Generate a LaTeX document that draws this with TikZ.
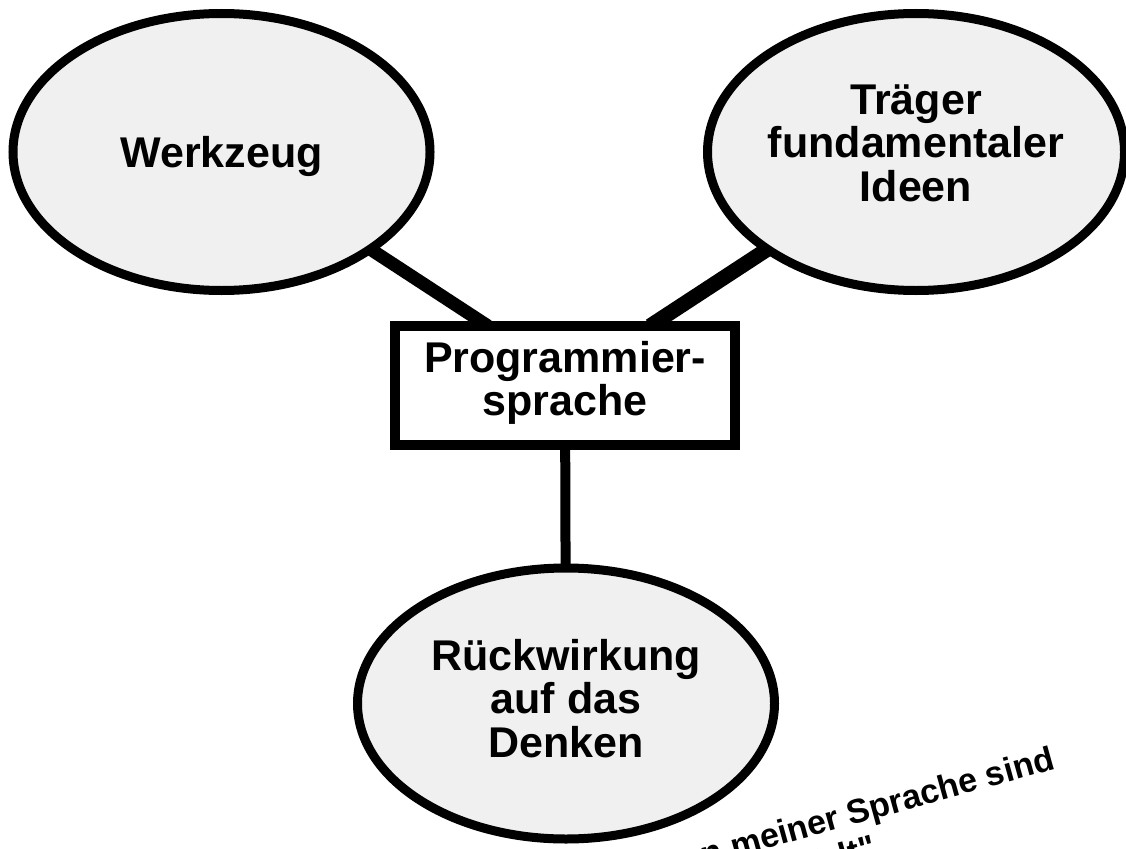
\documentclass[tikz,border=0pt]{standalone}
\usepackage{fontspec}
\setmainfont{Liberation Sans}[Ligatures=TeXOff]
\usetikzlibrary{shapes.geometric,backgrounds}
\definecolor{bubblegray}{RGB}{240,240,240}
% invisible struts that set the vertical placement of the text blocks
\newcommand{\lowstrut}[1]{\rule[-#1]{0pt}{#1}}
\newcommand{\highstrut}[1]{\rule{0pt}{#1}}
\begin{document}
\begin{tikzpicture}[x=1pt,y=-1pt,
  bubble/.style={ellipse, draw=black, line width=9pt, fill=bubblegray,
    minimum width=417pt, minimum height=277pt, inner xsep=-30pt, inner ysep=0pt,
    align=center, font=\fontsize{43}{43.5}\selectfont\bfseries},
  langbox/.style={rectangle, draw=black, line width=10pt, fill=white,
    minimum width=340pt, minimum height=119pt, inner sep=0pt, outer sep=0pt,
    align=center, font=\fontsize{43}{43}\selectfont\bfseries},
  link/.style={draw=black, line cap=butt},
  quotetext/.style={font=\fontsize{34}{36}\selectfont\bfseries, inner sep=0pt, anchor=base west}
]
\useasboundingbox (0,0) rectangle (1126,848);
\clip (0,0) rectangle (1126,848);

% concept bubbles and the central box
\node[bubble] (W) at (221.5,152) {\highstrut{41pt}Werkzeug};
\node[bubble] (T) at (916,152) {Träger\\fundamentaler\\Ideen\lowstrut{18pt}};
\node[langbox] (P) at (565,385.5) {Programmier-\\sprache\lowstrut{15pt}};
\node[bubble, minimum height=271pt] (R) at (566,703.5) {Rückwirkung\\auf das\\Denken\lowstrut{11pt}};

% white page and the thick connectors behind the shapes
\begin{scope}[on background layer]
  \fill[white] (0,0) rectangle (1126,848);
  \draw[link, line width=13pt] (W.center) -- ([xshift=-77pt]P.north);
  \draw[link, line width=15pt] (T.center) -- ([xshift=85pt]P.north);
  \draw[link, line width=10pt] (P.center) -- (R.center);
\end{scope}

% slanted quotation at the lower right
\begin{scope}[shift={(734,858)}, rotate=15.5, transform shape]
  \node[quotetext] (Q1) at (-225,0) {„Die Grenzen meiner Sprache sind};
  \node[quotetext] (Q2) at (-274,38) {die Grenzen meiner Welt"};
\end{scope}
\end{tikzpicture}
\end{document}
